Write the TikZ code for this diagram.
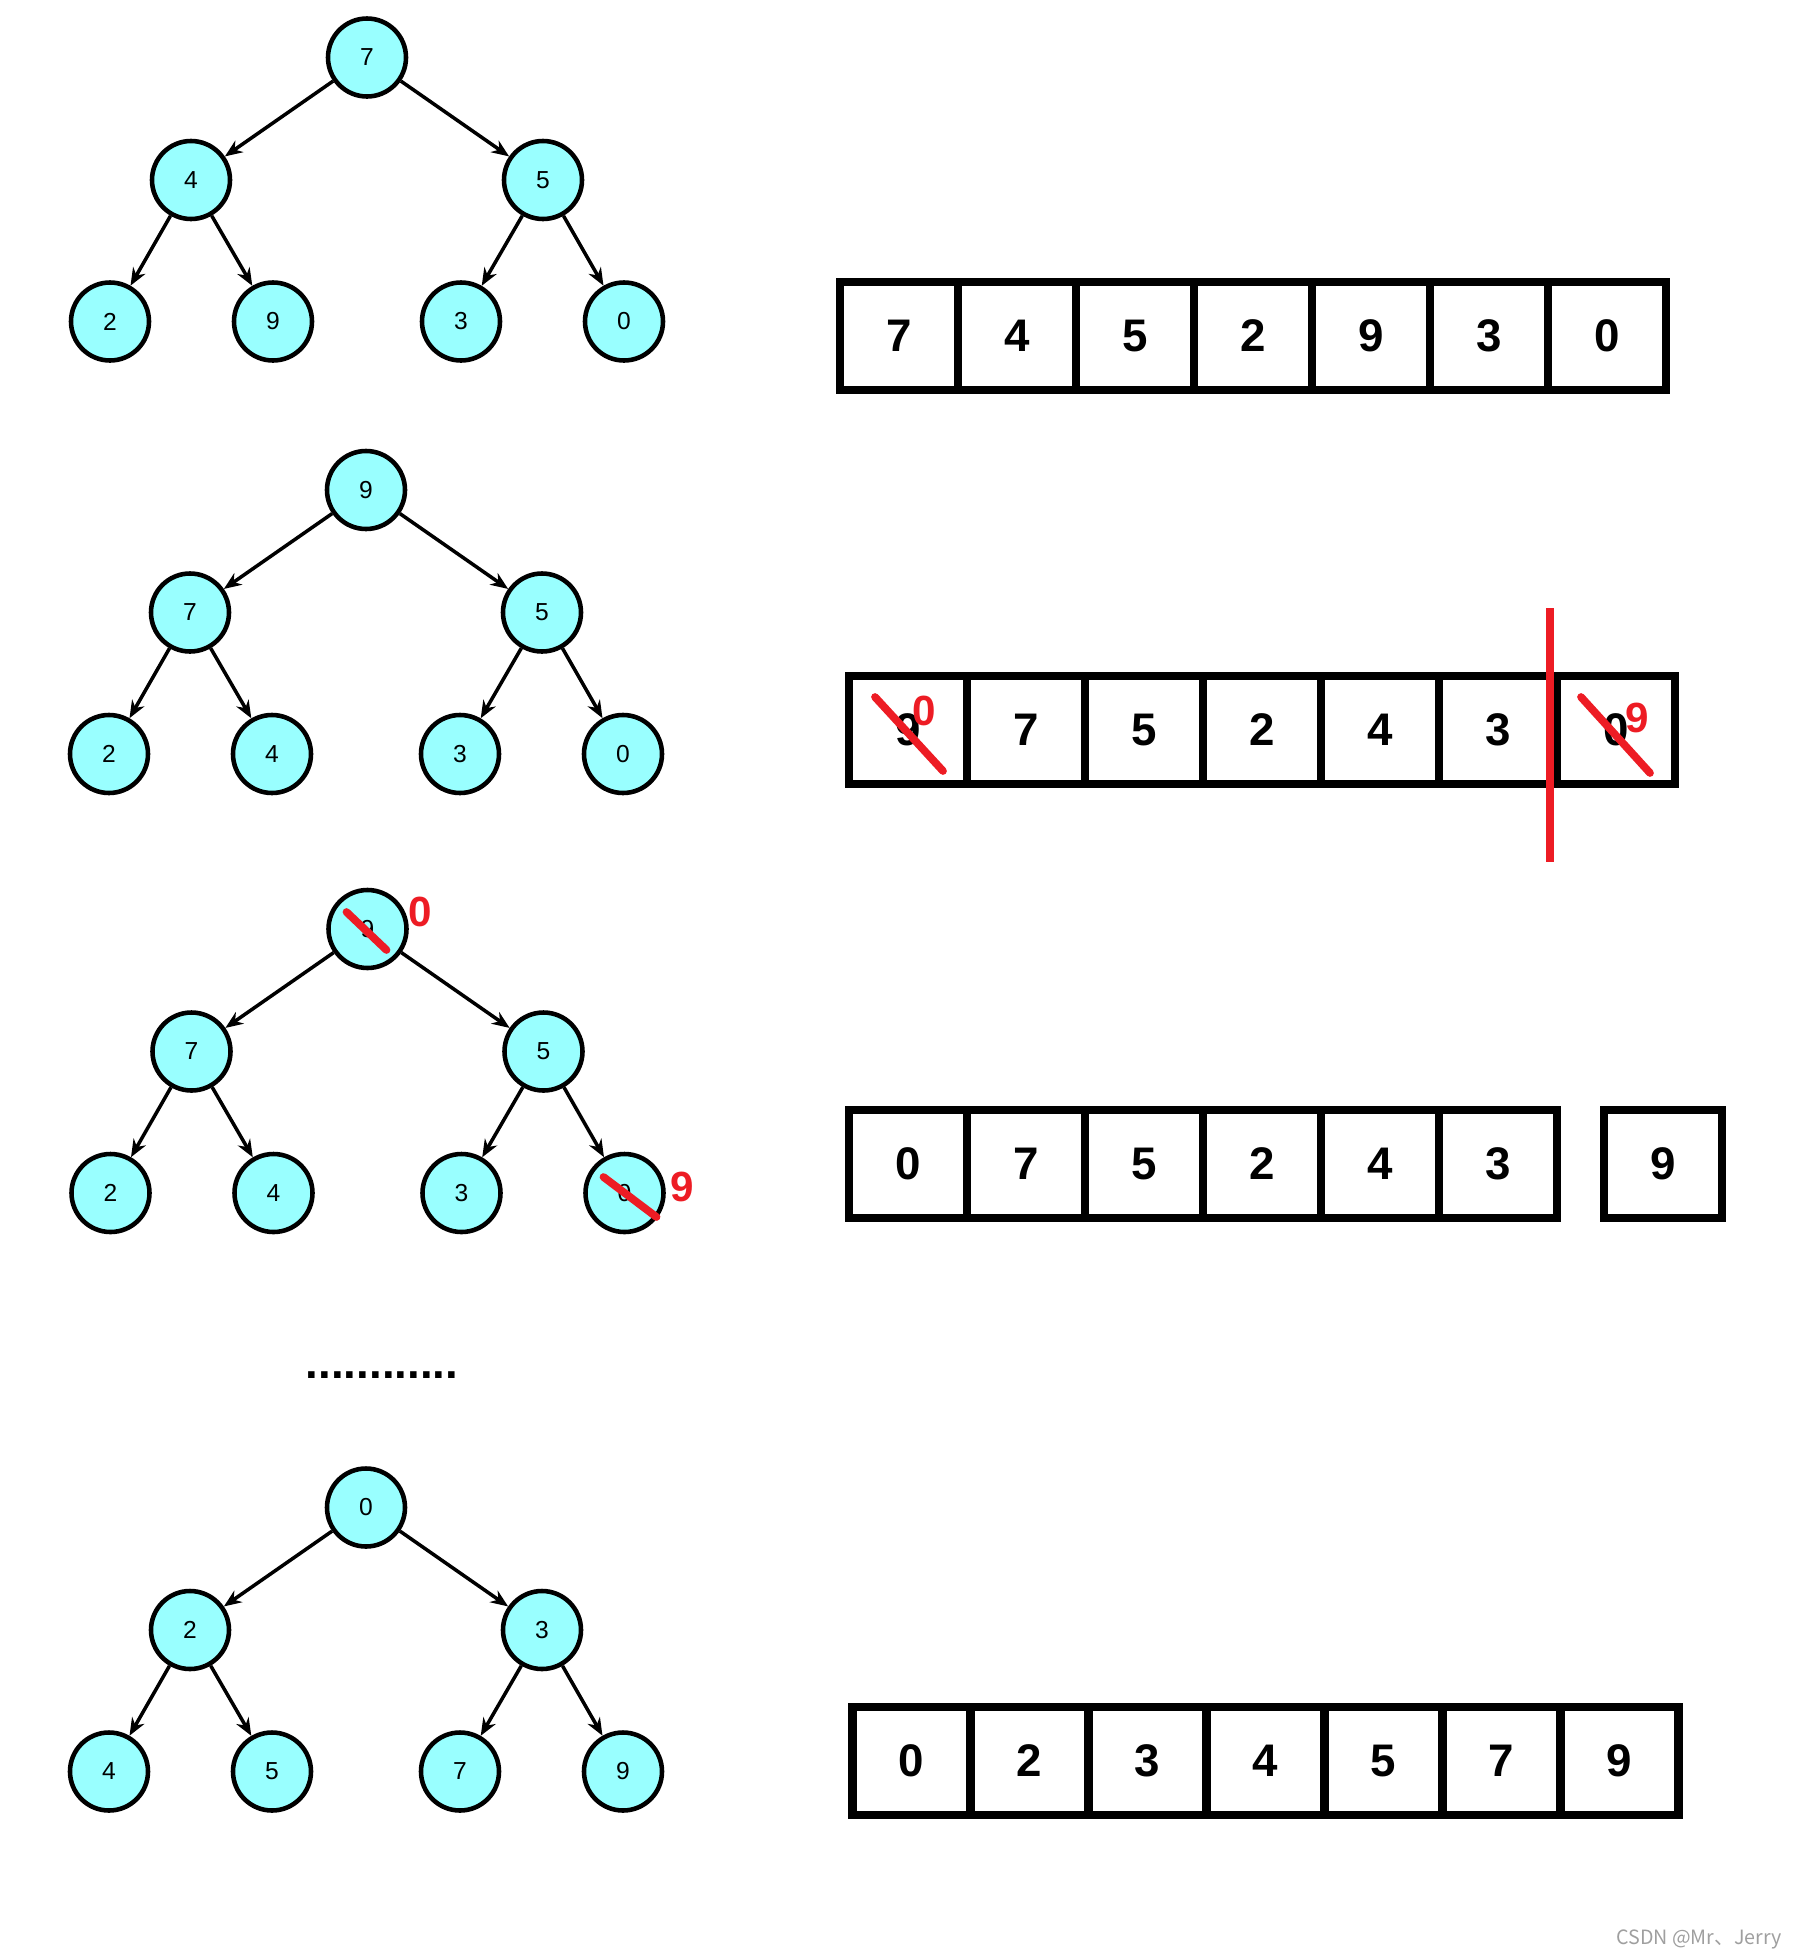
\documentclass[tikz,border=0pt]{standalone}
\usepackage{fontspec}
\setmainfont{Liberation Sans}
\newfontfamily\cjk{Noto Sans CJK SC}
\usetikzlibrary{arrows.meta,positioning}

\definecolor{heapcyan}{RGB}{153,255,255}
\definecolor{markred}{RGB}{237,28,36}

\begin{document}
\begin{tikzpicture}[
  heapnode/.style={circle,draw,line width=1.3pt,fill=heapcyan,minimum size=0.78cm,
    inner sep=0pt,font=\fontsize{7}{7}\selectfont},
  link/.style={line width=1pt,-{Stealth[length=5pt,width=4pt]}},
  cell/.style={rectangle,draw,line width=2.3pt,minimum width=1.18cm,minimum height=1.075cm,
    inner sep=0pt,outer sep=0pt,font=\fontsize{13}{13}\selectfont\bfseries},
  strike/.style={markred,line width=2.2pt,line cap=round},
  redtext/.style={markred,inner sep=0pt,font=\fontsize{12}{12}\selectfont\bfseries}
]
\useasboundingbox (0,0) rectangle (17.94,-19.60);

% first heap
\begin{scope}[shift={(3.67,-0.575)}]
  \node[heapnode] (a0) at (0,0) {7};
  \node[heapnode] (a1) at (-1.76,-1.225) {4};
  \node[heapnode] (a2) at (1.76,-1.225) {5};
  \node[heapnode] (a3) at (-2.57,-2.64) {2};
  \node[heapnode] (a4) at (-0.94,-2.64) {9};
  \node[heapnode] (a5) at (0.94,-2.64) {3};
  \node[heapnode] (a6) at (2.57,-2.64) {0};
\end{scope}
\path[link] (a0) edge (a1) edge (a2)
  (a1) edge (a3) edge (a4)
  (a2) edge (a5) edge (a6);

% second heap (after building)
\begin{scope}[shift={(3.66,-4.90)}]
  \node[heapnode] (b0) at (0,0) {9};
  \node[heapnode] (b1) at (-1.76,-1.225) {7};
  \node[heapnode] (b2) at (1.76,-1.225) {5};
  \node[heapnode] (b3) at (-2.57,-2.64) {2};
  \node[heapnode] (b4) at (-0.94,-2.64) {4};
  \node[heapnode] (b5) at (0.94,-2.64) {3};
  \node[heapnode] (b6) at (2.57,-2.64) {0};
\end{scope}
\path[link] (b0) edge (b1) edge (b2)
  (b1) edge (b3) edge (b4)
  (b2) edge (b5) edge (b6);

% third heap (swap root and last)
\begin{scope}[shift={(3.675,-9.29)}]
  \node[heapnode] (c0) at (0,0) {9};
  \node[heapnode] (c1) at (-1.76,-1.225) {7};
  \node[heapnode] (c2) at (1.76,-1.225) {5};
  \node[heapnode] (c3) at (-2.57,-2.64) {2};
  \node[heapnode] (c4) at (-0.94,-2.64) {4};
  \node[heapnode] (c5) at (0.94,-2.64) {3};
  \node[heapnode] (c6) at (2.57,-2.64) {0};
\end{scope}
\path[link] (c0) edge (c1) edge (c2)
  (c1) edge (c3) edge (c4)
  (c2) edge (c5) edge (c6);

% red corrections
\draw[strike] ([shift={(-0.21,0.17)}]c0.center) -- ([shift={(0.19,-0.21)}]c0.center);
\node[redtext] (c0new) at ([shift={(0.53,0.17)}]c0.center) {0};
\draw[strike] ([shift={(-0.21,0.16)}]c6.center) -- ([shift={(0.32,-0.24)}]c6.center);
\node[redtext] (c6new) at ([shift={(0.58,0.06)}]c6.center) {9};

% dots
\node[font=\fontsize{13}{13}\selectfont\bfseries] (dots) at (3.82,-13.75) {............};

% last heap
\begin{scope}[shift={(3.66,-15.075)}]
  \node[heapnode] (d0) at (0,0) {0};
  \node[heapnode] (d1) at (-1.76,-1.225) {2};
  \node[heapnode] (d2) at (1.76,-1.225) {3};
  \node[heapnode] (d3) at (-2.57,-2.64) {4};
  \node[heapnode] (d4) at (-0.94,-2.64) {5};
  \node[heapnode] (d5) at (0.94,-2.64) {7};
  \node[heapnode] (d6) at (2.57,-2.64) {9};
\end{scope}
\path[link] (d0) edge (d1) edge (d2)
  (d1) edge (d3) edge (d4)
  (d2) edge (d5) edge (d6);

% first array
\node[cell] (p1) at (8.99,-3.36) {7};
\node[cell,right=0pt of p1] (p2) {4};
\node[cell,right=0pt of p2] (p3) {5};
\node[cell,right=0pt of p3] (p4) {2};
\node[cell,right=0pt of p4] (p5) {9};
\node[cell,right=0pt of p5] (p6) {3};
\node[cell,right=0pt of p6] (p7) {0};

% second array
\node[cell] (q1) at (9.08,-7.30) {9};
\node[cell,right=0pt of q1] (q2) {7};
\node[cell,right=0pt of q2] (q3) {5};
\node[cell,right=0pt of q3] (q4) {2};
\node[cell,right=0pt of q4] (q5) {4};
\node[cell,right=0pt of q5] (q6) {3};
\node[cell,right=0pt of q6] (q7) {0};
\draw[strike] ([shift={(-0.33,0.33)}]q1.center) -- ([shift={(0.35,-0.41)}]q1.center);
\node[redtext] (q1new) at ([shift={(0.16,0.19)}]q1.center) {0};
\draw[strike] ([shift={(-0.35,0.33)}]q7.center) -- ([shift={(0.34,-0.43)}]q7.center);
\node[redtext] (q7new) at ([shift={(0.21,0.12)}]q7.center) {9};
\draw[strike,line cap=butt] ([shift={(-0.07,1.22)}]q7.west) -- ([shift={(-0.07,-1.32)}]q7.west);

% third array
\node[cell] (r1) at (9.08,-11.64) {0};
\node[cell,right=0pt of r1] (r2) {7};
\node[cell,right=0pt of r2] (r3) {5};
\node[cell,right=0pt of r3] (r4) {2};
\node[cell,right=0pt of r4] (r5) {4};
\node[cell,right=0pt of r5] (r6) {3};
\node[cell,right=0.47cm of r6] (r7) {9};

% sorted array
\node[cell] (s1) at (9.115,-17.61) {0};
\node[cell,right=0pt of s1] (s2) {2};
\node[cell,right=0pt of s2] (s3) {3};
\node[cell,right=0pt of s3] (s4) {4};
\node[cell,right=0pt of s4] (s5) {5};
\node[cell,right=0pt of s5] (s6) {7};
\node[cell,right=0pt of s6] (s7) {9};

% watermark
\node[text=gray!75,font=\cjk\fontsize{5.6}{5.6}\selectfont] (mark) at (16.99,-19.39) {CSDN @Mr、Jerry};

\end{tikzpicture}
\end{document}
